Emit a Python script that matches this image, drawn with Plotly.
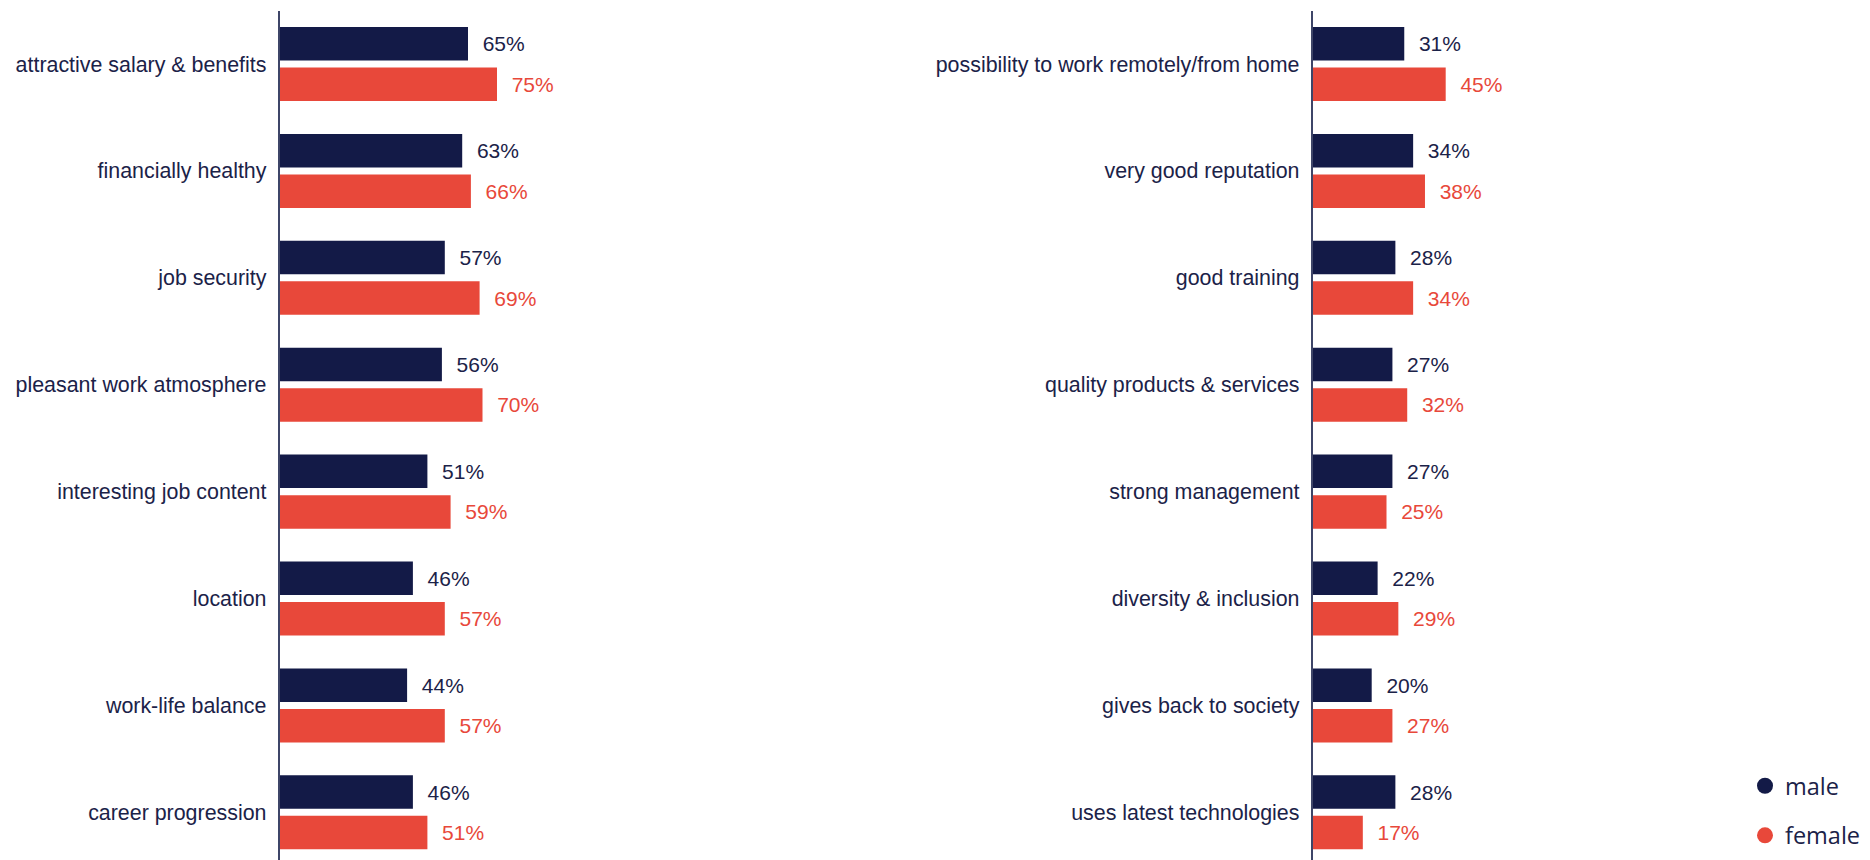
import plotly.graph_objects as go

# ---- data ----
left_categories = [
    "attractive salary & benefits",
    "financially healthy",
    "job security",
    "pleasant work atmosphere",
    "interesting job content",
    "location",
    "work-life balance",
    "career progression",
]
left_male = [65, 63, 57, 56, 51, 46, 44, 46]
left_female = [75, 66, 69, 70, 59, 57, 57, 51]

right_categories = [
    "possibility to work remotely/from home",
    "very good reputation",
    "good training",
    "quality products & services",
    "strong management",
    "diversity & inclusion",
    "gives back to society",
    "uses latest technologies",
]
right_male = [31, 34, 28, 27, 27, 22, 20, 28]
right_female = [45, 38, 34, 32, 25, 29, 27, 17]

series_names = ["male", "female"]

# ---- style ----
NAVY = "#131A47"
RED = "#E8483A"
TEXT_NAVY = "#1B2248"
AXIS_COLOR = "#3E4568"
FONT = "Liberation Sans, Arial, sans-serif"
W, H = 1870, 860

fig = go.Figure()

def add_panel(cats, male, female, xa, ya):
    pos = list(range(len(cats)))
    for name, vals, col in ((series_names[0], male, NAVY), (series_names[1], female, RED)):
        fig.add_trace(go.Bar(
            y=pos, x=vals, orientation="h", name=name,
            marker=dict(color=col, line=dict(width=0)),
            text=[f"\u00a0\u00a0{v}%" for v in vals],
            textposition="outside", constraintext="none",
            textfont=dict(family=FONT, size=21, color=col if col == RED else TEXT_NAVY),
            cliponaxis=False, showlegend=False,
            xaxis=xa, yaxis=ya, hoverinfo="x+y",
        ))

add_panel(left_categories, left_male, left_female, "x", "y")
add_panel(right_categories, right_male, right_female, "x2", "y2")

# legend entries (circle markers)
for i, (name, col) in enumerate(zip(series_names, [NAVY, RED])):
    fig.add_trace(go.Scatter(
        x=[None], y=[None], mode="markers", name=name,
        marker=dict(color=col, size=22, symbol="circle"),
        legendgroup=name, showlegend=True, xaxis="x2", yaxis="y2",
    ))

yrange = [7.446, -0.496]
left_x0 = 279.5 / W
right_x0 = 1312.5 / W

common_y = dict(
    range=yrange, tickmode="array", tickvals=list(range(8)),
    showline=True, linecolor=AXIS_COLOR, linewidth=1.5,
    ticks="outside", ticklen=7, tickcolor="rgba(0,0,0,0)",
    tickfont=dict(family=FONT, size=21.4, color=TEXT_NAVY),
    showgrid=False, zeroline=False, automargin=False, fixedrange=True,
)
common_x = dict(range=[0, 100], visible=False, showgrid=False, zeroline=False, fixedrange=True)

fig.update_layout(
    width=W, height=H,
    margin=dict(l=0, r=0, t=11, b=0, autoexpand=False),
    paper_bgcolor="white", plot_bgcolor="white",
    barmode="group", bargap=0.242, bargroupgap=0.173,
    xaxis=dict(domain=[left_x0, left_x0 + 290 / W], anchor="y", **common_x),
    yaxis=dict(anchor="x", ticktext=left_categories, **common_y),
    xaxis2=dict(domain=[right_x0, right_x0 + 296 / W], anchor="y2", **common_x),
    yaxis2=dict(anchor="x2", ticktext=right_categories, **common_y),
    legend=dict(
        x=1745 / W, xanchor="left", y=1 - (764 - 11) / (H - 11), yanchor="top",
        font=dict(family="Open Sans, Noto Sans, sans-serif", size=23.5, color=TEXT_NAVY),
        tracegroupgap=16, bgcolor="rgba(0,0,0,0)", itemsizing="trace",
    ),
    font=dict(family=FONT, color=TEXT_NAVY),
)

fig.write_html(
    "out.html",
    config={"displayModeBar": False},
    post_script="document.body.style.margin='0';document.body.style.overflow='hidden';",
)
